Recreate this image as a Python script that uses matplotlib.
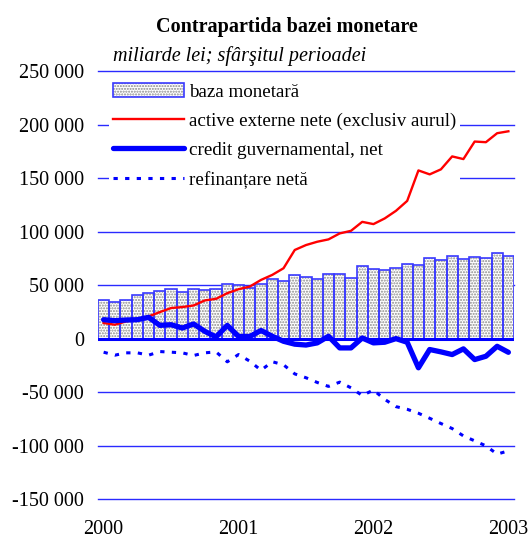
import matplotlib
matplotlib.use('Agg')
from matplotlib import pyplot as plt
from matplotlib.legend_handler import HandlerTuple
import numpy as np

plt.rcParams['font.family'] = ['Liberation Serif', 'DejaVu Serif']
plt.rcParams['hatch.linewidth'] = 1.0

# monthly, Jan 2000 .. Jan 2003 (mld. lei, end of period)
baza = [36.4, 34.3, 36.1, 40.8, 42.3, 44.5, 46.4, 43.6, 46.4, 45.1, 46.4, 51.5, 50.0,
        47.8, 51.2, 56.1, 53.7, 59.3, 58.0, 56.1, 60.8, 60.2, 57.0, 67.7, 65.5,
        64.2, 66.1, 69.5, 68.9, 75.1, 73.8, 77.3, 74.8, 76.0, 75.1, 79.8, 77.6]
active = [14.6, 13.0, 16.1, 18.3, 20.8, 24.8, 28.6, 29.5, 31.0, 35.7, 37.2, 42.5, 46.2,
          48.7, 54.9, 59.6, 65.8, 82.9, 87.5, 90.6, 92.8, 98.4, 100.8, 109.2, 107.1,
          112.4, 119.5, 128.8, 157.3, 153.6, 158.3, 170.4, 167.9, 184.3, 183.7, 192.1, 193.9]
credit = [17.7, 16.8, 17.4, 17.7, 19.9, 12.4, 13.0, 9.9, 13.7, 6.8, 1.6, 12.4, 2.0,
          2.0, 7.6, 2.2, -2.5, -5.2, -6.0, -4.0, 2.2, -8.7, -8.7, 0.6, -4.0,
          -3.4, 0.0, -3.4, -27.3, -10.2, -12.4, -14.9, -9.6, -19.6, -16.5, -7.2, -12.8]
refin = [-12.7, -15.5, -13.3, -13.3, -15.5, -12.1, -12.7, -13.3, -15.8, -13.3, -12.4, -21.7, -14.9,
         -21.1, -29.6, -21.6, -24.5, -33.0, -36.6, -41.0, -44.7, -40.7, -46.0, -53.2, -48.1,
         -56.8, -63.6, -66.1, -69.8, -74.5, -79.4, -84.1, -91.0, -95.6, -100.3, -108.0, -105.0]
years = ['2000', '2001', '2002', '2003']
yticks = [-150000, -100000, -50000, 0, 50000, 100000, 150000, 200000, 250000]

x = np.arange(len(baza))
k = 1000

fig = plt.figure(figsize=(5.28, 5.38), dpi=100)
ax = fig.add_axes([98/528, 1-499/538, 416/528, 427.7/538])

blue = '#0000ff'
for y in yticks:
    if y != 0:
        ax.axhline(y, color='#2a2aff', lw=1.0, zorder=0, clip_on=False)

b1 = ax.bar(x, np.array(baza)*k, width=1.0, color='white', edgecolor='#8a8a8a',
            hatch='......', linewidth=0, zorder=1)
b2 = ax.bar(x, np.array(baza)*k, width=1.0, fill=False, edgecolor='#3a3aff',
            linewidth=1.2, zorder=2)
ax.axhline(0, color=blue, lw=2.2, zorder=3)
l1, = ax.plot(x, np.array(active)*k, color='#ff0000', lw=1.7, zorder=4)
l2, = ax.plot(x, np.array(credit)*k, color=blue, lw=3.8, zorder=5,
              solid_joinstyle='round', solid_capstyle='round')
l3, = ax.plot(x, np.array(refin)*k, color=blue, lw=2.2, ls=(0, (1.4, 2.4)), zorder=4)

ax.set_xlim(-0.5, len(baza)-0.5)
ax.set_ylim(-150000, 250000)
ax.set_yticks(yticks)
ax.set_yticklabels(['{:,}'.format(v).replace(',', ' ') for v in yticks], fontsize=14.5)
ax.set_xticks([0, 12, 24, 36])
ax.set_xticklabels(years, fontsize=14.5)
ax.tick_params(length=0)
ax.tick_params(axis='y', pad=10)
ax.tick_params(axis='x', pad=15)
for s in ax.spines.values():
    s.set_visible(False)

leg = ax.legend([(b1, b2), l1, l2, l3],
                ['baza monetară', 'active externe nete (exclusiv aurul)',
                 'credit guvernamental, net', 'refinanțare netă'],
                handler_map={tuple: HandlerTuple(ndivide=1)},
                loc='upper left', bbox_to_anchor=(0.022, 0.985), fontsize=13.7,
                frameon=True, fancybox=False, framealpha=1, edgecolor='none',
                handlelength=3.75, handletextpad=0.25, labelspacing=0.62,
                borderpad=0.2, borderaxespad=0.1)
leg.set_zorder(3.5)

fig.text(287/528, 1-27/538, 'Contrapartida bazei monetare', ha='center', va='center',
         fontsize=14.5, fontweight='bold')
fig.text(113/528, 1-56/538, 'miliarde lei; sfârşitul perioadei', ha='left', va='center',
         fontsize=14.5, style='italic')

fig.savefig('out.png', dpi=100)
